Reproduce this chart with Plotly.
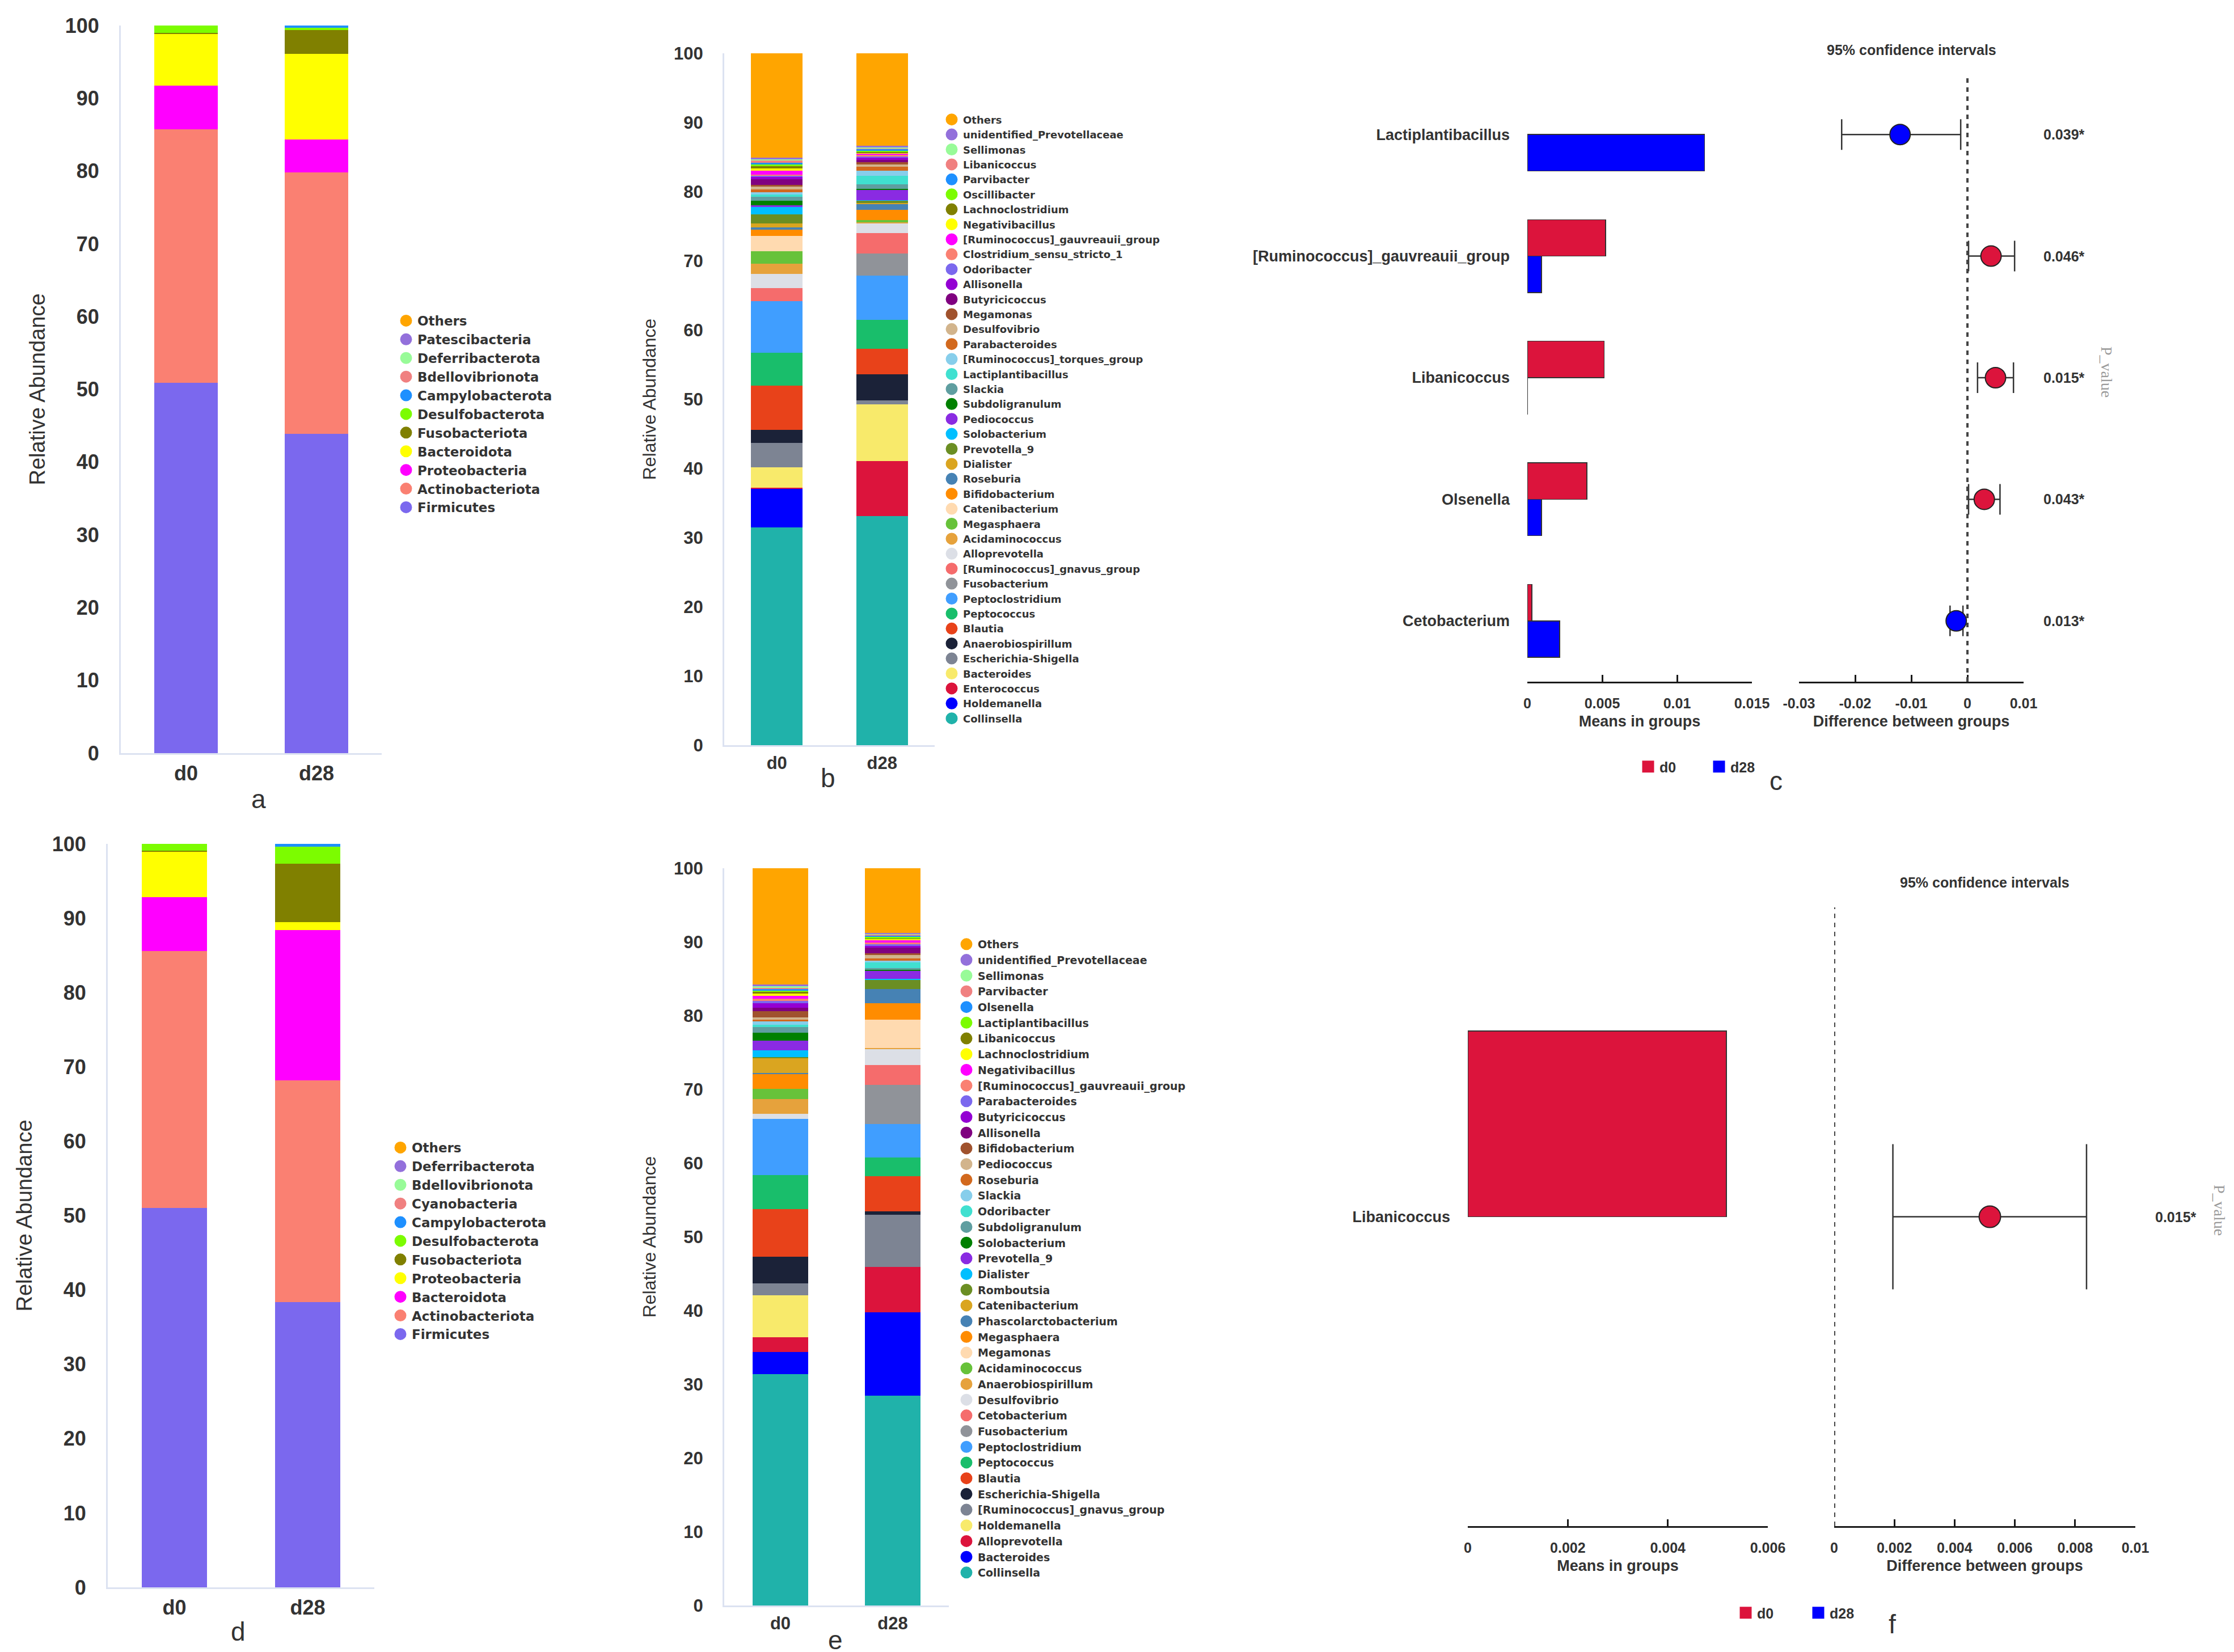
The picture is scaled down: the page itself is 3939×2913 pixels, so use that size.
import plotly.graph_objects as go

W, H = 3939, 2913
groups = ["d0", "d28"]

# ---------------- Panel a : phylum level (stack order bottom -> top) ----------------
phyla_a = ["Firmicutes", "Actinobacteriota", "Proteobacteria", "Bacteroidota", "Fusobacteriota",
           "Desulfobacterota", "Campylobacterota", "Bdellovibrionota", "Deferribacterota",
           "Patescibacteria", "Others"]
a_d0 = [50.9, 34.8, 6.0, 7.1, 0.2, 1.0, 0.02, 0.01, 0.01, 0.01, 0.01]
a_d28 = [43.9, 35.9, 4.5, 11.8, 3.3, 0.3, 0.3, 0.01, 0.01, 0.01, 0.01]

# ---------------- Panel d : phylum level ----------------
phyla_d = ["Firmicutes", "Actinobacteriota", "Bacteroidota", "Proteobacteria", "Fusobacteriota",
           "Desulfobacterota", "Campylobacterota", "Cyanobacteria", "Bdellovibrionota",
           "Deferribacterota", "Others"]
d_d0 = [51.0, 34.6, 7.2, 6.1, 0.2, 0.9, 0.02, 0.01, 0.01, 0.01, 0.01]
d_d28 = [38.4, 29.8, 20.2, 1.1, 7.8, 2.3, 0.4, 0.01, 0.01, 0.01, 0.01]

# ---------------- Panel b : genus level ----------------
genera_b = ["Collinsella", "Holdemanella", "Enterococcus", "Bacteroides", "Escherichia-Shigella",
            "Anaerobiospirillum", "Blautia", "Peptococcus", "Peptoclostridium", "Fusobacterium",
            "[Ruminococcus]_gnavus_group", "Alloprevotella", "Acidaminococcus", "Megasphaera",
            "Catenibacterium", "Bifidobacterium", "Roseburia", "Dialister", "Prevotella_9",
            "Solobacterium", "Pediococcus", "Subdoligranulum", "Slackia", "Lactiplantibacillus",
            "[Ruminococcus]_torques_group", "Parabacteroides", "Desulfovibrio", "Megamonas",
            "Butyricicoccus", "Allisonella", "Odoribacter", "Clostridium_sensu_stricto_1",
            "[Ruminococcus]_gauvreauii_group", "Negativibacillus", "Lachnoclostridium",
            "Oscillibacter", "Parvibacter", "Libanicoccus", "Sellimonas",
            "unidentified_Prevotellaceae", "Others"]
b_d0 = [31.5, 5.6, 0.1, 3.0, 3.5, 1.9, 6.4, 4.7, 7.5, 0.0, 1.9, 2.0, 1.5, 1.8, 2.2, 0.9, 0.3,
        0.6, 1.3, 1.1, 0.2, 0.7, 0.6, 0.3, 0.3, 0.4, 0.4, 0.3, 0.8, 0.3, 0.2, 0.2, 0.5, 0.4,
        0.3, 0.2, 0.3, 0.3, 0.2, 0.2, 15.1]
b_d28 = [33.1, 0.0, 8.0, 8.2, 0.5, 3.8, 3.7, 4.2, 6.4, 3.2, 2.9, 1.4, 0.2, 0.3, 0.0, 1.5, 0.8,
         0.2, 0.3, 0.1, 1.5, 0.1, 0.7, 1.2, 0.7, 0.6, 0.3, 0.4, 0.3, 0.3, 0.2, 0.2, 0.2, 0.1,
         0.2, 0.1, 0.3, 0.1, 0.1, 0.2, 13.4]

# ---------------- Panel e : genus level ----------------
genera_e = ["Collinsella", "Bacteroides", "Alloprevotella", "Holdemanella",
            "[Ruminococcus]_gnavus_group", "Escherichia-Shigella", "Blautia", "Peptococcus",
            "Peptoclostridium", "Fusobacterium", "Cetobacterium", "Desulfovibrio",
            "Anaerobiospirillum", "Acidaminococcus", "Megamonas", "Megasphaera",
            "Phascolarctobacterium", "Catenibacterium", "Romboutsia", "Dialister", "Prevotella_9",
            "Solobacterium", "Subdoligranulum", "Odoribacter", "Slackia", "Roseburia",
            "Pediococcus", "Bifidobacterium", "Allisonella", "Butyricicoccus", "Parabacteroides",
            "[Ruminococcus]_gauvreauii_group", "Negativibacillus", "Lachnoclostridium",
            "Libanicoccus", "Lactiplantibacillus", "Olsenella", "Parvibacter", "Sellimonas",
            "unidentified_Prevotellaceae", "Others"]
e_d0 = [31.4, 3.0, 2.0, 5.7, 1.6, 3.6, 6.5, 4.6, 7.6, 0.0, 0.0, 0.7, 2.0, 1.4, 0.0, 2.0, 0.1,
        2.1, 0.1, 0.9, 1.3, 1.1, 0.8, 0.3, 0.4, 0.3, 0.3, 0.8, 0.5, 0.6, 0.3, 0.3, 0.4, 0.3,
        0.3, 0.1, 0.2, 0.2, 0.2, 0.2, 15.8]
e_d28 = [28.5, 11.3, 6.1, 0.0, 7.1, 0.5, 4.7, 2.6, 4.5, 5.3, 2.7, 2.2, 0.1, 0.0, 3.9, 2.2, 1.9,
         0.0, 1.3, 0.1, 1.1, 0.1, 0.3, 0.7, 0.3, 0.3, 0.4, 0.3, 0.7, 0.3, 0.2, 0.2, 0.3, 0.2,
         0.1, 0.2, 0.2, 0.1, 0.1, 0.1, 8.8]

# ---------------- Panel c : STAMP (genus) ----------------
c_features = ["Lactiplantibacillus", "[Ruminococcus]_gauvreauii_group", "Libanicoccus",
              "Olsenella", "Cetobacterium"]
c_mean_d0 = [0.0, 0.00523, 0.00514, 0.00398, 0.0003]
c_mean_d28 = [0.01184, 0.00095, 0.00002, 0.00095, 0.00216]
c_diff = [-0.0120, 0.0042, 0.0050, 0.0030, -0.0020]
c_ci_low = [-0.0224, 0.0002, 0.0018, 0.0002, -0.0031]
c_ci_high = [-0.0012, 0.0084, 0.0082, 0.0058, -0.0008]
c_pvalue = ["0.039*", "0.046*", "0.015*", "0.043*", "0.013*"]
c_enriched = ["d28", "d0", "d0", "d0", "d28"]
c_mean_ticks = [0, 0.005, 0.01, 0.015]
c_mean_ticktext = ["0", "0.005", "0.01", "0.015"]
c_diff_ticks = [-0.03, -0.02, -0.01, 0, 0.01]
c_diff_ticktext = ["-0.03", "-0.02", "-0.01", "0", "0.01"]

# ---------------- Panel f : STAMP ----------------
f_features = ["Libanicoccus"]
f_mean_d0 = [0.00517]
f_mean_d28 = [0.0]
f_diff = [0.00517]
f_ci_low = [0.00195]
f_ci_high = [0.00838]
f_pvalue = ["0.015*"]
f_enriched = ["d0"]
f_mean_ticks = [0, 0.002, 0.004, 0.006]
f_mean_ticktext = ["0", "0.002", "0.004", "0.006"]
f_diff_ticks = [0, 0.002, 0.004, 0.006, 0.008, 0.01]
f_diff_ticktext = ["0", "0.002", "0.004", "0.006", "0.008", "0.01"]

# ---------------- styles ----------------
palette11 = ["#7B68EE", "#FA8072", "#FF00FF", "#FFFF00", "#808000", "#7CFC00", "#1E90FF",
             "#F08080", "#98FB98", "#9370DB", "#FFA500"]
palette41 = ["#20B2AA", "#0000FF", "#DC143C", "#F8EA6B", "#7D8493", "#1B2238", "#E8421A",
             "#19BE6B", "#409EFF", "#909399", "#F56C6C", "#DCDFE6", "#E6A23C", "#67C23A",
             "#FFDAB0", "#FF8C00", "#4682B4", "#DAA520", "#6B8E23", "#00BFFF", "#8A2BE2",
             "#008000", "#5F9EA0", "#40E0D0", "#87CEEB", "#D2691E", "#D2B48C", "#A0522D",
             "#800080", "#9400D3", "#7B68EE", "#FA8072", "#FF00FF", "#FFFF00", "#808000",
             "#7CFC00", "#1E90FF", "#F08080", "#98FB98", "#9370DB", "#FFA500"]
group_colors = {"d0": "#DC143C", "d28": "#0000FF"}
TXT = "#333333"
AXLINE = "#DCE2F1"
SANS = "Liberation Sans"


def pxx(v):
    return v / W


def pxy(v):
    return 1 - v / H


fig = go.Figure()


def add_stacked(n, names, v0, v1, colors, legend_name):
    xa = "x" if n == 1 else f"x{n}"
    ya = "y" if n == 1 else f"y{n}"
    for name, a0, a1, col in zip(names, v0, v1, colors):
        fig.add_trace(go.Bar(x=groups, y=[a0, a1], name=name, width=0.49,
                             marker=dict(color=col, line=dict(width=0)),
                             xaxis=xa, yaxis=ya, showlegend=False,
                             legendgroup=f"{legend_name}-{name}"))
    for name, col in zip(reversed(names), reversed(colors)):
        fig.add_trace(go.Scatter(x=[None], y=[None], mode="markers", name=name,
                                 marker=dict(color=col, size=16, symbol="circle",
                                             line=dict(color=col, width=5)),
                                 xaxis=xa, yaxis=ya, legend=legend_name, showlegend=True,
                                 legendgroup=f"{legend_name}-{name}"))


add_stacked(1, phyla_a, a_d0, a_d28, palette11, "legend")
add_stacked(2, genera_b, b_d0, b_d28, palette41, "legend2")
add_stacked(3, phyla_d, d_d0, d_d28, palette11, "legend3")
add_stacked(4, genera_e, e_d0, e_d28, palette41, "legend4")


def add_stamp(xm, xd, ya, feats, m0, m1, diff, lo, hi, enriched, legend_name, capw, msize):
    for grp, vals, off in (("d0", m0, -0.3), ("d28", m1, 0.0)):
        col = group_colors[grp]
        fig.add_trace(go.Bar(y=feats, x=vals, orientation="h", name=grp, base=0, offset=off,
                             width=0.3,
                             marker=dict(color=col, line=dict(color="#333333",
                                                              width=[1.5 if v > 0 else 0 for v in vals])),
                             xaxis=xm, yaxis=ya, showlegend=False,
                             legendgroup=f"{legend_name}-{grp}"))
        fig.add_trace(go.Scatter(x=[None], y=[None], mode="markers", name=grp,
                                 marker=dict(color=col, size=16, symbol="square",
                                             line=dict(color=col, width=5)),
                                 xaxis=xm, yaxis=ya, legend=legend_name, showlegend=True,
                                 legendgroup=f"{legend_name}-{grp}"))
    fig.add_trace(go.Scatter(
        x=diff, y=feats, mode="markers", showlegend=False,
        marker=dict(size=msize, color=[group_colors[g] for g in enriched],
                    line=dict(color="#222222", width=2)),
        error_x=dict(type="data", symmetric=False,
                     array=[h - d for h, d in zip(hi, diff)],
                     arrayminus=[d - l for d, l in zip(diff, lo)],
                     color="#333333", thickness=2.5, width=capw),
        xaxis=xd, yaxis=ya))


add_stamp("x5", "x6", "y5", c_features, c_mean_d0, c_mean_d28, c_diff, c_ci_low, c_ci_high,
          c_enriched, "legend5", 27, 36)
add_stamp("x7", "x8", "y7", f_features, f_mean_d0, f_mean_d28, f_diff, f_ci_low, f_ci_high,
          f_enriched, "legend6", 128, 38)

layout = dict(
    width=W, height=H, template="none", barmode="stack",
    margin=dict(l=0, r=0, t=0, b=0, pad=0),
    paper_bgcolor="white", plot_bgcolor="white", showlegend=True,
)


def stacked_axes(n, x0, x1, ytop, ybot, tsize, title_size, standoff):
    xk = "xaxis" if n == 1 else f"xaxis{n}"
    yk = "yaxis" if n == 1 else f"yaxis{n}"
    xa = "x" if n == 1 else f"x{n}"
    ya = "y" if n == 1 else f"y{n}"
    tf = dict(family=SANS, size=tsize, color=TXT, weight="bold")
    layout[xk] = dict(domain=[pxx(x0), pxx(x1)], anchor=ya, type="category",
                      range=[-0.5, 1.5], showline=True, linecolor=AXLINE, linewidth=3,
                      ticks="", showgrid=False, zeroline=False, tickfont=tf,
                      ticklabelstandoff=2, automargin=False)
    layout[yk] = dict(domain=[pxy(ybot), pxy(ytop)], anchor=xa, range=[0, 100],
                      tickvals=list(range(0, 101, 10)), showline=True, linecolor=AXLINE,
                      linewidth=3, ticks="", showgrid=False, zeroline=False, tickfont=tf,
                      ticklabelstandoff=28, automargin=False,
                      title=dict(text="Relative Abundance", standoff=standoff,
                                 font=dict(family=SANS, size=title_size, color=TXT)))


stacked_axes(1, 205, 665, 37, 1320, 36, 38, 24)
stacked_axes(2, 1269, 1640, 86, 1306, 31, 32, 22)
stacked_axes(3, 182, 652, 1480, 2791, 36, 38, 24)
stacked_axes(4, 1269, 1665, 1523, 2823, 31, 32, 22)

bold27 = dict(family=SANS, size=27, color=TXT, weight="bold")
bold25 = dict(family=SANS, size=25, color=TXT, weight="bold")


def stamp_axes(xm, xd, ya, mx0, mx1, dx0, dx1, ytop, ybot, feats, mrange, drange,
               mt, mtt, dt, dtt):
    common = dict(showline=True, linecolor="#1a1a1a", linewidth=3, ticks="inside", ticklen=12,
                  tickwidth=3, tickcolor="#1a1a1a", showgrid=False, zeroline=False,
                  tickfont=bold25, ticklabelstandoff=14, automargin=False)
    layout["xaxis" + xm[1:]] = dict(domain=[pxx(mx0), pxx(mx1)], anchor=ya, range=mrange,
                                    tickvals=mt, ticktext=mtt,
                                    title=dict(text="Means in groups", font=bold27, standoff=10),
                                    **common)
    layout["xaxis" + xd[1:]] = dict(domain=[pxx(dx0), pxx(dx1)], anchor=ya, range=drange,
                                    tickvals=dt, ticktext=dtt,
                                    title=dict(text="Difference between groups", font=bold27,
                                               standoff=10),
                                    **common)
    n = len(feats)
    layout["yaxis" + ya[1:]] = dict(domain=[pxy(ybot), pxy(ytop)], anchor=xm, type="category",
                                    categoryorder="array", categoryarray=feats,
                                    range=[n - 0.5, -0.5], showline=False, ticks="",
                                    showgrid=False, zeroline=False, tickfont=bold27,
                                    ticklabelstandoff=30, automargin=False)


stamp_axes("x5", "x6", "y5", 2685, 3081, 3164, 3560, 122, 1194, c_features,
           [0, 0.015], [-0.03, 0.01], c_mean_ticks, c_mean_ticktext, c_diff_ticks, c_diff_ticktext)
stamp_axes("x7", "x8", "y7", 2580, 3109, 3226, 3757, 1592, 2683, f_features,
           [0, 0.006], [0, 0.01], f_mean_ticks, f_mean_ticktext, f_diff_ticks, f_diff_ticktext)


def vlegend(x, yc, size):
    return dict(x=pxx(x), y=pxy(yc), xanchor="left", yanchor="middle", orientation="v",
                traceorder="normal", bgcolor="rgba(0,0,0,0)", borderwidth=0,
                font=dict(family="DejaVu Sans", size=size, color=TXT, weight="bold"))


def hlegend(x, yc, ew):
    return dict(x=pxx(x), y=pxy(yc), xanchor="left", yanchor="middle", orientation="h",
                traceorder="normal", bgcolor="rgba(0,0,0,0)", borderwidth=0,
                entrywidth=ew, entrywidthmode="pixels", font=bold25)


layout["legend"] = vlegend(688, 722, 23)
layout["legend2"] = vlegend(1650, 731, 18)
layout["legend3"] = vlegend(678, 2180, 23)
layout["legend4"] = vlegend(1676, 2211, 19)
layout["legend5"] = hlegend(2878, 1344, 80)
layout["legend6"] = hlegend(3050, 2836, 83)

dash_line = dict(color="#444444", width=4, dash="8px,8px")
shapes = [
    dict(type="line", xref="x6", yref="y5 domain", x0=0, x1=0, y0=0, y1=1, line=dash_line),
    dict(type="line", xref="x8", yref="y7 domain", x0=0, x1=0, y0=0, y1=1, line=dash_line),
]

annotations = []
letter_font = dict(family=SANS, size=46, color=TXT)
for txt, x, y in [("a", 448, 1401), ("b", 1452, 1364), ("c", 3123, 1369),
                  ("d", 412, 2869), ("e", 1465, 2884), ("f", 3328, 2856)]:
    annotations.append(dict(text=txt, x=pxx(x), y=pxy(y), xref="paper", yref="paper",
                            showarrow=False, xanchor="center", yanchor="middle", font=letter_font))

for x, y in [(3362, 80), (3491, 1548)]:
    annotations.append(dict(text="95% confidence intervals", x=pxx(x), y=pxy(y), xref="paper",
                            yref="paper", showarrow=False, xanchor="center", yanchor="middle",
                            font=bold25))

for x, y in [(3707, 648), (3906, 2126)]:
    annotations.append(dict(text="P_value", x=pxx(x), y=pxy(y), xref="paper", yref="paper",
                            showarrow=False, textangle=90, xanchor="center", yanchor="middle",
                            font=dict(family="Liberation Serif", size=28, color="#9a9a9a")))

for feat, p in zip(c_features, c_pvalue):
    annotations.append(dict(text=p, x=pxx(3593), y=feat, xref="paper", yref="y5",
                            showarrow=False, xanchor="left", yanchor="middle", font=bold25))
for feat, p in zip(f_features, f_pvalue):
    annotations.append(dict(text=p, x=pxx(3790), y=feat, xref="paper", yref="y7",
                            showarrow=False, xanchor="left", yanchor="middle", font=bold25))

layout["shapes"] = shapes
layout["annotations"] = annotations
fig.update_layout(**layout)

fig.write_html("out.html")
